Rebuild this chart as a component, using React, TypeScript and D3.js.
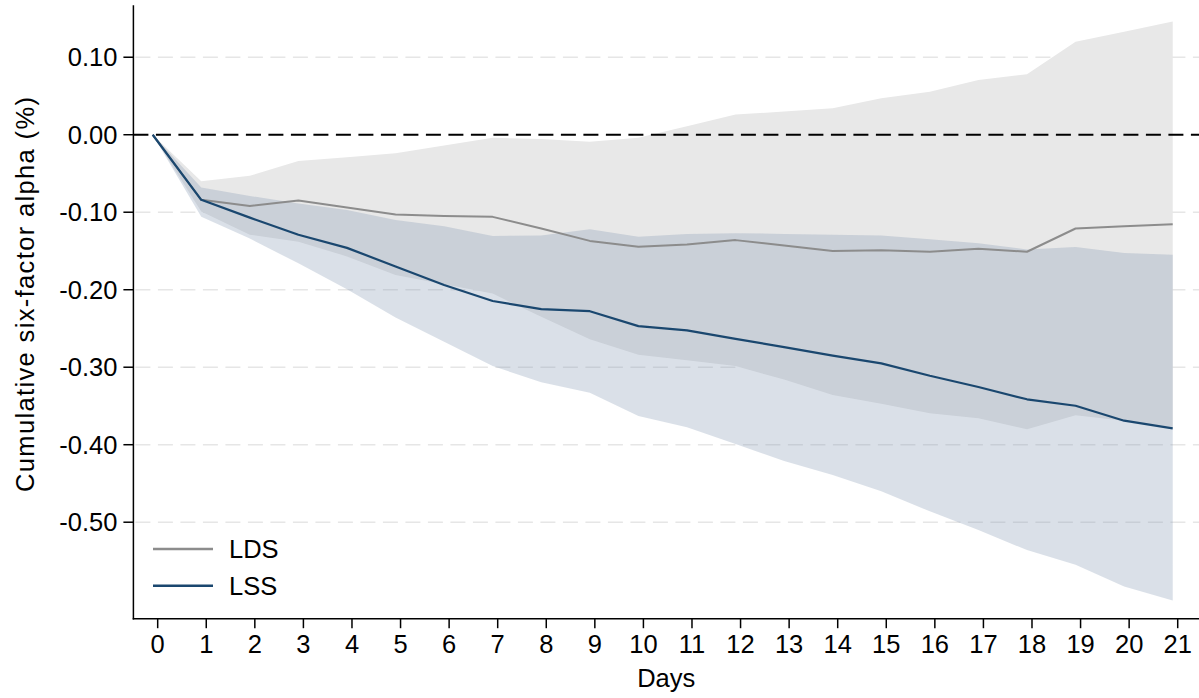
import React from "react";
import * as d3 from "d3";

const days = [0, 1, 2, 3, 4, 5, 6, 7, 8, 9, 10, 11, 12, 13, 14, 15, 16, 17, 18, 19, 20, 21];

const lds = [0, -0.084, -0.092, -0.085, -0.094, -0.103, -0.105, -0.106, -0.121, -0.137, -0.1445, -0.1415, -0.136, -0.143, -0.15, -0.149, -0.151, -0.147, -0.151, -0.121, -0.118, -0.1155];
const ldsHi = [0, -0.06, -0.053, -0.034, -0.029, -0.024, -0.014, -0.004, -0.0055, -0.009, -0.004, 0.011, 0.026, 0.03, 0.034, 0.047, 0.0555, 0.0706, 0.078, 0.12, 0.133, 0.146];
const ldsLo = [0, -0.099, -0.129, -0.138, -0.157, -0.181, -0.193, -0.205, -0.235, -0.264, -0.284, -0.291, -0.2985, -0.316, -0.336, -0.347, -0.3595, -0.366, -0.38, -0.362, -0.369, -0.377];

const lss = [0, -0.084, -0.107, -0.129, -0.146, -0.17, -0.194, -0.2146, -0.225, -0.2277, -0.247, -0.2524, -0.2635, -0.274, -0.285, -0.295, -0.311, -0.3255, -0.3414, -0.3497, -0.369, -0.379];
const lssHi = [0, -0.068, -0.079, -0.0886, -0.097, -0.11, -0.118, -0.1307, -0.13, -0.122, -0.1316, -0.128, -0.127, -0.128, -0.129, -0.13, -0.135, -0.14, -0.148, -0.145, -0.1527, -0.155];
const lssLo = [0, -0.106, -0.134, -0.166, -0.1995, -0.236, -0.267, -0.2985, -0.3195, -0.333, -0.363, -0.3776, -0.399, -0.421, -0.439, -0.46, -0.486, -0.51, -0.536, -0.555, -0.583, -0.601];

const yTicks = [0.1, 0, -0.1, -0.2, -0.3, -0.4, -0.5];
const xTicks = days;

const seriesNames = ["LDS", "LSS"];
const lineColors = ["#8c8c8c", "#1a476f"];

const W = 1199;
const H = 698;
const FONT = "'Liberation Sans', Arial, Helvetica, sans-serif";

export default function App() {
  const x = d3.scaleLinear().domain([-0.5, 21.5]).range([133.4, 1202]);
  const y = d3.scaleLinear().domain([-0.6245, 0.167]).range([618.7, 5.3]);
  const shift = -0.103;
  const xd = (d: number) => x(d + shift);

  const rows = days.map((d, i) => ({
    d,
    lds: lds[i],
    ldsHi: ldsHi[i],
    ldsLo: ldsLo[i],
    lss: lss[i],
    lssHi: lssHi[i],
    lssLo: lssLo[i],
  }));

  const area = (lo: string, hi: string) =>
    d3
      .area<any>()
      .x((r) => xd(r.d))
      .y0((r) => y(r[lo]))
      .y1((r) => y(r[hi]))(rows) || "";
  const line = (k: string) =>
    d3
      .line<any>()
      .x((r) => xd(r.d))
      .y((r) => y(r[k]))(rows) || "";

  const x0 = 133.4;
  const yBottom = y.range()[0];
  const yTop = y.range()[1];

  return (
    <svg width={W} height={H} style={{ position: "absolute", left: 0, top: 0, background: "#fff" }} fontFamily={FONT}>
      <rect width={W} height={H} fill="#fff" />
      {/* grid */}
      {yTicks.filter((t) => t !== 0).map((t) => (
        <line key={t} x1={x0 + 2} x2={W} y1={y(t)} y2={y(t)} stroke="#e6e6e6" strokeWidth={1.4} strokeDasharray="15,7.5" />
      ))}
      {/* bands */}
      <path d={area("ldsLo", "ldsHi")} fill="#e8e8e8" />
      <path d={area("lssLo", "lssHi")} fill="rgb(132,152,178)" fillOpacity={0.3} />
      {/* zero line */}
      <line x1={x0} x2={W} y1={y(0)} y2={y(0)} stroke="#000" strokeWidth={2} strokeDasharray="15,7.5" />
      {/* lines */}
      <path d={line("lds")} fill="none" stroke={lineColors[0]} strokeWidth={2} strokeLinejoin="round" />
      <path d={line("lss")} fill="none" stroke={lineColors[1]} strokeWidth={2.2} strokeLinejoin="round" />
      {/* axes */}
      <line x1={x0} x2={x0} y1={yTop} y2={yBottom + 0.7} stroke="#000" strokeWidth={1.5} />
      <line x1={x0 - 0.7} x2={W} y1={yBottom} y2={yBottom} stroke="#000" strokeWidth={1.5} />
      {yTicks.map((t) => (
        <g key={t}>
          <line x1={x0 - 10} x2={x0} y1={y(t)} y2={y(t)} stroke="#000" strokeWidth={1.5} />
          <text x={x0 - 16} y={y(t)} dy="0.36em" textAnchor="end" fontSize={25.5} fill="#000">
            {t.toFixed(2)}
          </text>
        </g>
      ))}
      {xTicks.map((t) => (
        <g key={t}>
          <line x1={x(t)} x2={x(t)} y1={yBottom} y2={yBottom + 9.5} stroke="#000" strokeWidth={1.5} />
          <text x={x(t)} y={653.3} textAnchor="middle" fontSize={25.5} fill="#000">
            {t}
          </text>
        </g>
      ))}
      <text x={(x0 + W) / 2} y={687.3} textAnchor="middle" fontSize={25.5} fill="#000">
        Days
      </text>
      <text
        transform={`translate(33.5,294.5) rotate(-90)`}
        textAnchor="middle"
        fontSize={25.5}
        fill="#000"
        textLength={395}
        lengthAdjust="spacing"
      >
        Cumulative six-factor alpha (%)
      </text>
      {/* legend */}
      {seriesNames.map((n, i) => (
        <g key={n}>
          <line x1={153} x2={213} y1={549 + i * 36.7} y2={549 + i * 36.7} stroke={lineColors[i]} strokeWidth={2.5} />
          <text x={229} y={558.3 + i * 36.7} fontSize={25.5} fill="#000">
            {n}
          </text>
        </g>
      ))}
    </svg>
  );
}
